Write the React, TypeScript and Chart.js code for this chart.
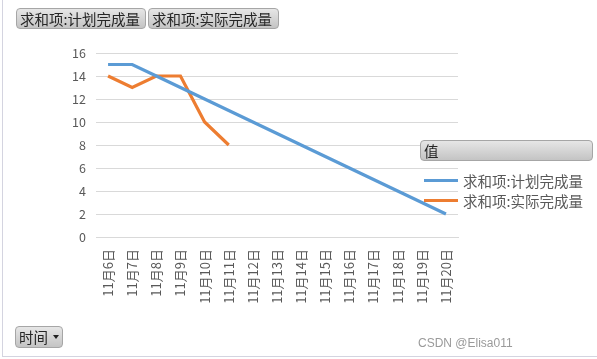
import React, { useEffect, useRef } from "react";
import { Chart, registerables } from "chart.js";

Chart.register(...registerables);

const categories = ["11月6日", "11月7日", "11月8日", "11月9日", "11月10日", "11月11日", "11月12日", "11月13日", "11月14日", "11月15日", "11月16日", "11月17日", "11月18日", "11月19日", "11月20日"];
const planValues = [15, 15, 14, 13, 12, 11, 10, 9, 8, 7, 6, 5, 4, 3, 2];
const actualValues: (number | null)[] = [14, 13, 14, 14, 10, 8, null, null, null, null, null, null, null, null, null];
const seriesNames = ["求和项:计划完成量", "求和项:实际完成量"];
const seriesColors = ["#5B9BD5", "#ED7D31"];
const yTicks = [0, 2, 4, 6, 8, 10, 12, 14, 16];

const FONT = '"Microsoft YaHei", "Noto Sans CJK SC", sans-serif';

const btn: React.CSSProperties = {
  position: "absolute",
  boxSizing: "border-box",
  border: "1px solid #a6a6a6",
  borderRadius: 4,
  background: "linear-gradient(#e6e6e6, #c4c4c4)",
  color: "#262626",
  fontFamily: FONT,
  fontSize: 14.5,
  lineHeight: "19px",
  whiteSpace: "nowrap",
  overflow: "hidden",
};

export default function App() {
  const ref = useRef<HTMLCanvasElement>(null);
  useEffect(() => {
    if (!ref.current) return;
    const chart = new Chart(ref.current, {
      type: "line",
      data: {
        labels: categories,
        datasets: [
          { label: seriesNames[0], data: planValues, borderColor: seriesColors[0], backgroundColor: seriesColors[0], borderWidth: 3.2, pointRadius: 0, tension: 0 },
          { label: seriesNames[1], data: actualValues, borderColor: seriesColors[1], backgroundColor: seriesColors[1], borderWidth: 3.2, pointRadius: 0, tension: 0, spanGaps: false },
        ],
      },
      options: {
        responsive: false,
        animation: false,
        layout: { padding: { top: 53, right: 139, bottom: 0, left: 0 } },
        plugins: { legend: { display: false }, tooltip: { enabled: false } },
        scales: {
          x: {
            offset: true,
            grid: { display: false, drawTicks: false },
            border: { display: true, color: "#d9d9d9", width: 1 },
            ticks: { autoSkip: false, minRotation: 90, maxRotation: 90, padding: 12, color: "#595959", font: { family: FONT, size: 13 } },
            afterFit: (s: any) => { s.height = 122; },
          },
          y: {
            min: 0,
            max: 16,
            afterBuildTicks: (s: any) => { s.ticks = yTicks.map((v) => ({ value: v })); },
            grid: { color: "#d9d9d9", drawTicks: false },
            border: { display: false },
            ticks: { padding: 10, color: "#595959", font: { family: FONT, size: 12.5 } },
            afterFit: (s: any) => { s.width = 96; },
          },
        },
      },
    });
    return () => chart.destroy();
  }, []);

  return (
    <div style={{ position: "fixed", left: 0, top: 0, width: 597, height: 359, background: "#fff", overflow: "hidden" }}>
      <div style={{ position: "absolute", left: 2, top: 0, width: 1, height: 357, background: "#d4d4e0" }} />
      <div style={{ position: "absolute", left: 2, top: 356, width: 595, height: 1, background: "#d4d4e0" }} />
      <canvas ref={ref} width={597} height={359} style={{ position: "absolute", left: 0, top: 0 }} />
      <div style={{ ...btn, left: 16, top: 8, width: 130, height: 21, paddingLeft: 3 }}>{seriesNames[0]}</div>
      <div style={{ ...btn, left: 148, top: 8, width: 131, height: 21, paddingLeft: 3 }}>{seriesNames[1]}</div>
      <div style={{ ...btn, left: 420, top: 140, width: 173, height: 21, paddingLeft: 3 }}>值</div>
      <div style={{ ...btn, left: 15, top: 326, width: 48, height: 22, paddingLeft: 3 }}>
        时间
        <span style={{ position: "absolute", left: 37, top: 8, width: 0, height: 0, borderLeft: "3px solid transparent", borderRight: "3px solid transparent", borderTop: "4px solid #222" }} />
      </div>
      {seriesNames.map((n, i) => (
        <div key={n} style={{ position: "absolute", left: 424, top: 170 + i * 20, height: 20, display: "flex", alignItems: "center", fontFamily: FONT, fontSize: 14.5, color: "#595959", whiteSpace: "nowrap" }}>
          <span style={{ display: "inline-block", width: 34, height: 3, background: seriesColors[i], marginRight: 5 }} />
          {n}
        </div>
      ))}
      <div style={{ position: "absolute", left: 418, top: 336, fontFamily: "Arial, 'Liberation Sans', sans-serif", fontSize: 12, color: "#9a9a9a" }}>CSDN @Elisa011</div>
    </div>
  );
}
